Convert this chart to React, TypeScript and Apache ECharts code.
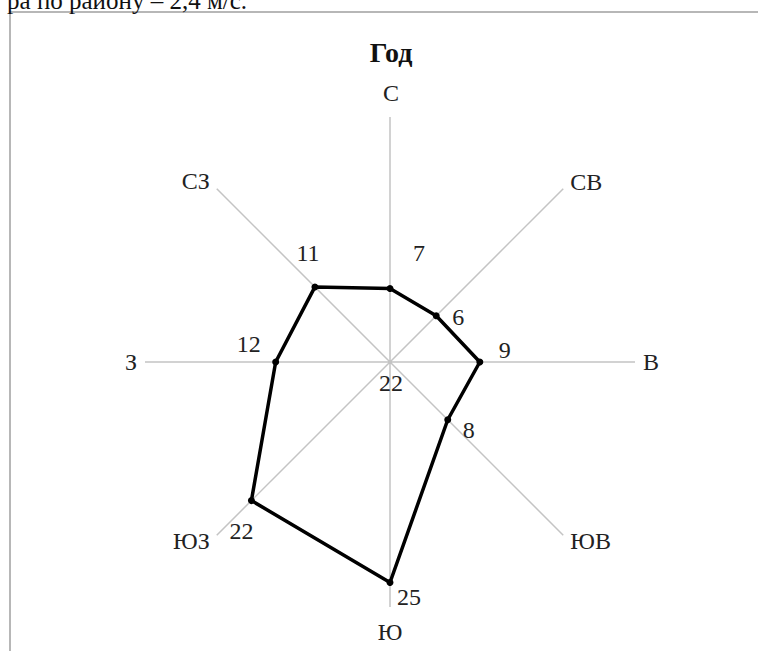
import React, { useEffect, useRef } from "react";
import * as echarts from "echarts";

const directions = ["С", "СВ", "В", "ЮВ", "Ю", "ЮЗ", "З", "СЗ"];
const frequencies = [7, 6, 9, 8, 25, 22, 12, 11];
const calm = 22;
const radiusMin = -2;
const radiusMax = 28;
const titleText = "Год";
const headerText = "ра по району – 2,4 м/с.";

const FONT = "Liberation Serif, Times New Roman, serif";

// value label offsets (style only)
const labelOffsets: [number, number][] = [
  [29, -36],
  [22, 1],
  [25, -12],
  [21, 10],
  [19, 14],
  [-10, 30],
  [-27, -18],
  [-7, -34],
];

// direction label placement (style only): [align, dx, dy]
const dirLabelPlacement: [string, number, number][] = [
  ["center", 1, -24],
  ["left", 7, -7],
  ["left", 8, 0],
  ["left", 7, 6],
  ["center", 0, 25],
  ["right", -7, 6],
  ["right", -8, 0],
  ["right", -7, -8],
];

export default function App() {
  const ref = useRef<HTMLDivElement>(null);
  useEffect(() => {
    if (!ref.current) return;
    const chart = echarts.init(ref.current, undefined, { renderer: "svg" });
    const cx = 390;
    const cy = 362;
    const R = 245;
    const step = 360 / directions.length;

    const lineData: any[] = directions.map((d, i) => ({
      name: d,
      value: [frequencies[i], i * step],
      label: {
        show: true,
        position: "inside",
        offset: labelOffsets[i],
        formatter: String(frequencies[i]),
      },
    }));
    // close the polygon back to the first direction
    lineData.push({
      value: [frequencies[0], 360],
      symbol: "none",
      label: { show: false },
    });

    const dirData = directions.map((d, i) => ({
      name: d,
      value: [radiusMax, i * step],
      label: {
        show: true,
        position: "inside",
        align: dirLabelPlacement[i][0],
        verticalAlign: "middle",
        offset: [dirLabelPlacement[i][1], dirLabelPlacement[i][2]],
        formatter: d,
      },
    }));

    chart.setOption({
      animation: false,
      backgroundColor: "#ffffff",
      title: {
        text: titleText,
        left: cx - 4,
        top: 33,
        textAlign: "center",
        textStyle: {
          fontFamily: FONT,
          fontSize: 28,
          fontWeight: "bold",
          color: "#111",
        },
      },
      polar: {
        center: [cx, cy],
        radius: R,
      },
      angleAxis: {
        type: "value",
        min: 0,
        max: 360,
        interval: step,
        startAngle: 90,
        clockwise: true,
        axisLine: { show: false },
        axisTick: { show: false },
        axisLabel: { show: false },
        splitLine: {
          show: true,
          lineStyle: { color: "#c4c4c4", width: 1.5 },
        },
      },
      radiusAxis: {
        type: "value",
        min: radiusMin,
        max: radiusMax,
        axisLine: { show: false },
        axisTick: { show: false },
        axisLabel: { show: false },
        splitLine: { show: false },
      },
      series: [
        {
          type: "scatter",
          coordinateSystem: "polar",
          data: dirData,
          symbolSize: 0,
          silent: true,
          itemStyle: { color: "#222", opacity: 1 },
          label: {
            fontFamily: FONT,
            fontSize: 24,
            color: "#222",
          },
          z: 2,
        },
        {
          type: "line",
          coordinateSystem: "polar",
          clip: false,
          data: lineData,
          symbol: "circle",
          symbolSize: 7,
          itemStyle: { color: "#000" },
          lineStyle: { color: "#000", width: 3.5 },
          label: {
            fontFamily: FONT,
            fontSize: 24,
            color: "#222",
          },
          z: 3,
        },
      ],
      graphic: [
        {
          type: "rect",
          shape: { x: 10, y: 12, width: 800, height: 700 },
          style: { fill: "none", stroke: "#a0a0a0", lineWidth: 1.5 },
          silent: true,
          z: 0,
        },
        {
          type: "text",
          x: 247,
          y: 0,
          style: {
            text: headerText,
            fontFamily: FONT,
            fontSize: 25,
            fill: "#111",
            textAlign: "right",
            textVerticalAlign: "middle",
          },
          z: 1,
        },
        {
          type: "text",
          x: cx + 1,
          y: cy + 21,
          style: {
            text: String(calm),
            fontFamily: FONT,
            fontSize: 24,
            fill: "#222",
            textAlign: "center",
            textVerticalAlign: "middle",
          },
          z: 4,
        },
      ],
    });
    return () => chart.dispose();
  }, []);
  return (
    <div
      ref={ref}
      style={{ position: "absolute", left: 0, top: 0, width: 758, height: 651 }}
    />
  );
}
